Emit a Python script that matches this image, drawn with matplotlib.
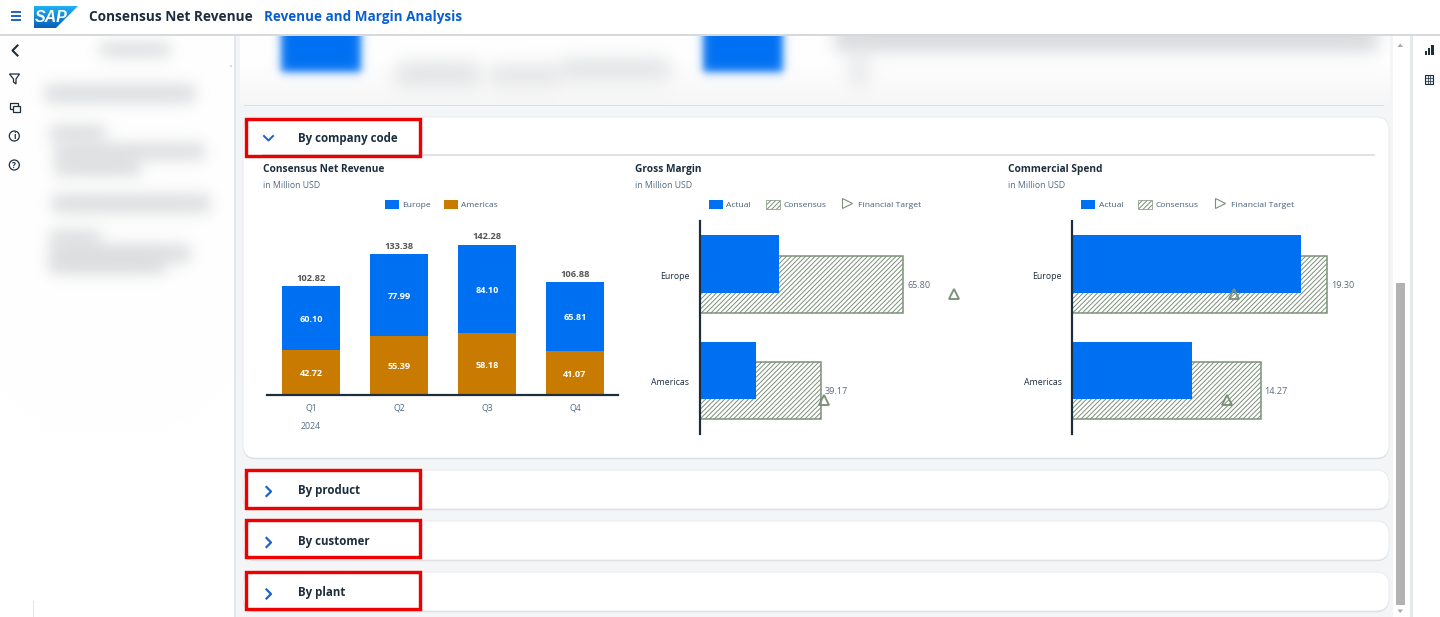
import numpy as np
import matplotlib
matplotlib.use("Agg")
import matplotlib.pyplot as plt
from matplotlib.patches import FancyBboxPatch, Rectangle, Polygon, Circle, Patch
from matplotlib.lines import Line2D
from matplotlib.transforms import ScaledTranslation

# ---------- data ----------
quarters = ["Q1", "Q2", "Q3", "Q4"]
year_label = "2024"
rev_europe = [60.10, 77.99, 84.10, 65.81]
rev_americas = [42.72, 55.39, 58.18, 41.07]
rev_totals = [102.82, 133.38, 142.28, 106.88]

regions = ["Europe", "Americas"]
gm_actual = [25.6, 18.1]
gm_consensus = [65.80, 39.17]
gm_target = [82.2, 40.2]
cs_actual = [17.3, 9.05]
cs_consensus = [19.30, 14.27]
cs_target = [12.27, 11.7]

section_names = ["By company code", "By product", "By customer", "By plant"]

# ---------- style ----------
W, H = 1440, 617
FONT = "Open Sans"
plt.rcParams["font.family"] = [FONT, "DejaVu Sans"]
plt.rcParams["hatch.linewidth"] = 0.7
BLUE = "#0070f2"
GOLD = "#c87b00"
DARK = "#1d2d3e"
GREY = "#556b82"
GREEN = "#7b9078"
LINK = "#1b63c9"
RED = "#ee0000"
HATCH = "/" * 7
px = 0.72  # points per pixel at dpi 100

fig = plt.figure(figsize=(W / 100, H / 100), dpi=100, facecolor="white")
ui = fig.add_axes([0, 0, 1, 1], zorder=0)
ui.set_axis_off()


def axes_px(left, top, right, bottom):
    ax = fig.add_axes([left / W, 1 - bottom / H, (right - left) / W, (bottom - top) / H], zorder=2)
    ax.patch.set_alpha(0)
    for s in ax.spines.values():
        s.set_visible(False)
    return ax


# ---------- blurred background ----------
yy, xx = np.mgrid[0:H, 0:W] + 0.5
img = np.ones((H, W, 3))
img[:, 234:1393] = np.array([0xf3, 0xf5, 0xf7]) / 255
img[:, 1393:1410] = 1.0
img[:, 1410:1413] = np.array([0xe6, 0xe9, 0xec]) / 255
img[:, 234:236] = np.array([0xe4, 0xe6, 0xe9]) / 255


def soft(x0, x1, y0, y1, s):
    return (0.5 * (np.tanh((xx - x0) / s) - np.tanh((xx - x1) / s))
            * 0.5 * (np.tanh((yy - y0) / s) - np.tanh((yy - y1) / s)))


def blur(x0, x1, y0, y1, color, s=5, strength=1.0):
    global img
    a = (soft(x0, x1, y0, y1, s) * strength)[..., None]
    img = img * (1 - a) + np.array(matplotlib.colors.to_rgb(color)) * a


for b in [(100, 170, 42, 57), (45, 195, 84, 103), (50, 105, 125, 142), (55, 205, 143, 160),
          (55, 140, 158, 176), (52, 210, 194, 213), (50, 100, 230, 246), (50, 190, 244, 263),
          (50, 165, 258, 274)]:
    blur(*b, "#cfd1d3", s=9, strength=0.75)
img[:34, :] = 1.0
img[34:36, :] = np.array([0xd6, 0xd8, 0xda]) / 255

ui.imshow(img, extent=(0, W, H, 0), interpolation="nearest", aspect="auto", zorder=0)


def card(x0, y0, x1, y1, r=13):
    ui.add_patch(FancyBboxPatch((x0, y0 + 1.2), x1 - x0, y1 - y0, boxstyle=f"round,pad=0,rounding_size={r}",
                                fc="#d6dade", ec="none", zorder=1))
    ui.add_patch(FancyBboxPatch((x0, y0), x1 - x0, y1 - y0, boxstyle=f"round,pad=0,rounding_size={r}",
                                fc="white", ec="#e8ebee", lw=0.7, zorder=1.1))


# top blurred card
ui.add_patch(Rectangle((244, 104.6), 1140, 1.2, fc="#dcdfe2", ec="none", zorder=1))
top = np.ones((69, 1150, 3))
tyy, txx = np.mgrid[36:105, 240:1390] + 0.5


def tsoft(x0, x1, y0, y1, s):
    return (0.5 * (np.tanh((txx - x0) / s) - np.tanh((txx - x1) / s))
            * 0.5 * (np.tanh((tyy - y0) / s) - np.tanh((tyy - y1) / s)))[..., None]


top = top * (1 - np.clip((tyy[..., None] - 60) / 45, 0, 1) * 0.035)
for (x0, x1, y0, y1, c, s, st) in [
    (396, 480, 62, 86, "#dcdee0", 11, .85), (490, 560, 64, 86, "#e0e1e3", 11, .85), (560, 670, 58, 80, "#dcdee0", 11, .85),
    (835, 1378, 20, 52, "#d6d8db", 10, .95), (848, 870, 50, 86, "#e4e5e7", 9, .7),
    (281, 361, 15, 72, BLUE, 5, 1), (703, 783, 15, 72, BLUE, 5, 1),
]:
    a = tsoft(x0, x1, y0, y1, s) * st
    top = top * (1 - a) + np.array(matplotlib.colors.to_rgb(c)) * a
ui.imshow(top, extent=(240, 1390, 105, 36), interpolation="nearest", aspect="auto", zorder=1.05)

# section cards
card(243, 117, 1389, 458)
card(243, 470, 1389, 509)
card(243, 521, 1389, 560)
card(243, 572, 1389, 611)

# divider
ui.plot([262, 1375], [155, 155], color="#d9dcdf", lw=1.2, zorder=1.2, solid_capstyle="butt")

# red boxes and section labels
boxes = [(246, 119, 419.5, 156), (246, 470, 419.5, 507.5), (246, 520, 419.5, 557), (246, 572, 419.5, 608.5)]
label_y = [138.8, 490.3, 541.6, 592.8]
for (x0, y0, x1, y1), name, ly in zip(boxes, section_names, label_y):
    ui.add_patch(Rectangle((x0, y0), x1 - x0, y1 - y0, fc="none", ec=RED, lw=3.4 * px, zorder=3))
    ui.text(298, ly, name, fontsize=8.3, fontweight="bold", color=DARK, va="center", ha="left", zorder=3)

# chevrons
ui.plot([264, 268.5, 273], [136, 140.5, 136], color=LINK, lw=1.8 * px * 1.1, zorder=3)
for cy in [491.5, 542.5, 594]:
    ui.plot([266.5, 271, 266.5], [cy - 4.5, cy, cy + 4.5], color=LINK, lw=2 * px * 1.1, zorder=3)

# header
for y in [12, 15.7, 19.5]:
    ui.plot([11, 21], [y, y], color="#1b5fc4", lw=1.9 * px, zorder=3, solid_capstyle="butt")
logo = Polygon([(34, 6), (78, 6), (56, 28), (34, 28)], closed=True, fc="none", ec="none", zorder=3)
ui.add_patch(logo)
grad = np.linspace(0, 1, 22)[:, None, None] * (np.array([0x0a, 0x5f, 0xb8]) - np.array([0x1e, 0xb0, 0xf0])) / 255 + np.array([0x1e, 0xb0, 0xf0]) / 255
gim = ui.imshow(np.repeat(grad, 2, axis=1), extent=(34, 78, 28, 6), aspect="auto", zorder=3)
gim.set_clip_path(logo)
ui.text(34.5, 17, "SAP", fontsize=11.5, fontweight="bold", style="italic", color="white", va="center", ha="left",
        family="Liberation Sans", zorder=4)
ui.text(89, 17, "Consensus Net Revenue", fontsize=9.8, fontweight="bold", color=DARK, va="center", zorder=3)
ui.text(264, 17, "Revenue and Margin Analysis", fontsize=9.75, fontweight="bold", color="#0a5fd0", va="center", zorder=3)

# left icons
ui.plot([17.5, 12.5, 17.5], [45.5, 50.5, 55.5], color=DARK, lw=1.5, zorder=3)
ui.add_patch(Polygon([(9.5, 74), (19.5, 74), (16, 79), (16, 84), (13.5, 82), (13.5, 79)], closed=True,
                     fc="none", ec=DARK, lw=0.9, zorder=3))
ui.add_patch(Rectangle((9.5, 102.5), 8, 6, fc="none", ec=DARK, lw=0.9, zorder=3))
ui.add_patch(Rectangle((12.5, 105.5), 7.5, 6, fc="white", ec=DARK, lw=0.9, zorder=3))
for cy, s in [(136, "i"), (165, "?")]:
    ui.add_patch(Circle((14.3, cy), 5, fc="none", ec=DARK, lw=0.9, zorder=3))
    ui.text(14.3, cy + 0.5, s, fontsize=5.8, fontweight="bold", color=DARK, ha="center", va="center", zorder=3)

# right icons
for (x, y, w, h) in [(1425, 50.5, 2, 4), (1428, 47.5, 2, 7), (1431, 45, 2.5, 9.5)]:
    ui.add_patch(Rectangle((x, y), w, h, fc=DARK, ec="none", zorder=3))
ui.add_patch(Rectangle((1425, 74.5), 8, 9, fc="#e8ecf2", ec=DARK, lw=0.8, zorder=3))
for x in [1427.7, 1430.3]:
    ui.plot([x, x], [74.5, 83.5], color=DARK, lw=0.5, zorder=3)
for y in [77.5, 80.5]:
    ui.plot([1425, 1433], [y, y], color=DARK, lw=0.5, zorder=3)

# scrollbar
ui.add_patch(Rectangle((1395.7, 282.5), 9.5, 322.5, fc="#b2b2b2", ec="none", zorder=2))
ui.add_patch(Polygon([(1397.5, 609.5), (1403, 609.5), (1400.2, 613)], fc="#aaaaaa", ec="none", zorder=2))
ui.add_patch(Polygon([(1397.5, 47), (1403, 47), (1400.2, 43.5)], fc="#aaaaaa", ec="none", zorder=2))
ui.plot([33, 33], [601, 617], color="#e6e6e6", lw=0.8, zorder=2)
ui.add_patch(Rectangle((230, 65), 1.5, 1.5, fc="#d6dbe0", ec="none", zorder=2))

# chart headers
for x, title in [(263, "Consensus Net Revenue"), (635, "Gross Margin"), (1008, "Commercial Spend")]:
    ui.text(x, 169.3, title, fontsize=7.25, fontweight="bold", color=DARK, va="center", zorder=3)
    ui.text(x, 186, "in Million USD", fontsize=6.3, color=GREY, va="center", zorder=3)

ui.set_xlim(0, W)
ui.set_ylim(H, 0)


def add_legend(ax, handles, cx, spacing):
    leg = ax.legend(handles=handles, loc="center", bbox_to_anchor=(cx, 204.5), bbox_transform=ui.transData,
                    ncols=len(handles), frameon=False, fontsize=6.1, handlelength=1.65, handleheight=1.3,
                    handletextpad=0.42, columnspacing=spacing, borderpad=0, borderaxespad=0,
                    labelcolor="#475e75")
    return leg


# ---------- stacked column chart ----------
ax1 = axes_px(267, 230, 618, 394.5)
x = np.arange(len(quarters))
ax1.bar(x, rev_americas, width=0.66, color=GOLD, zorder=2)
ax1.bar(x, rev_europe, width=0.66, bottom=rev_americas, color=BLUE, zorder=2)
ax1.set_xlim(-0.5, 3.49)
ax1.set_ylim(0, 164.5 / 1.053)
for i in x:
    ax1.annotate(f"{rev_americas[i]:.2f}", (i, rev_americas[i] / 2), xytext=(0, -0.9), textcoords="offset points",
                 color="white", fontsize=6.6, fontweight="bold", ha="center", va="center", zorder=3)
    ax1.annotate(f"{rev_europe[i]:.2f}", (i, rev_americas[i] + rev_europe[i] / 2), xytext=(0, -0.9),
                 textcoords="offset points", color="white", fontsize=6.6, fontweight="bold", ha="center", va="center",
                 zorder=3)
    ax1.annotate(f"{rev_totals[i]:.2f}", (i, rev_americas[i] + rev_europe[i]), xytext=(0, 5.6),
                 textcoords="offset points", ha="center", va="center", fontsize=6.7, fontweight="bold", color="#555555")
ax1.spines["bottom"].set_visible(True)
ax1.spines["bottom"].set_linewidth(2.2 * px)
ax1.spines["bottom"].set_color(DARK)
ax1.set_xticks(x, quarters)
ax1.set_yticks([])
ax1.tick_params(axis="x", length=0, pad=6.3, labelsize=6.3, labelcolor=GREY)
ax1.annotate(year_label, (0, 0), xytext=(0, -22.7), textcoords="offset points", ha="center", va="center",
             fontsize=6.3, color=GREY, annotation_clip=False)
add_legend(ax1, [Patch(fc=BLUE, label="Europe"), Patch(fc=GOLD, label="Americas")], 441.5, 1.5)


# ---------- bullet charts ----------
def bullet(left, scale, actual, consensus, target, legend_cx):
    right = left + 310
    ax = axes_px(left, 221.4, right, 433.7)
    y = np.arange(len(regions))
    ax.barh(y + 0.095, consensus, height=0.535, facecolor="white", edgecolor=GREEN, hatch=HATCH, lw=1.5 * px, zorder=1)
    ax.barh(y - 0.097, actual, height=0.543, color=BLUE, zorder=2)
    ax.plot(target, y + 0.18, ls="none", marker="^", ms=7.6, mfc="none", mec=GREEN, mew=1.35, zorder=3, clip_on=False)
    ax.set_xlim(0, (right - left) / scale)
    ax.set_ylim(1.5, -0.5)
    ax.spines["left"].set_visible(True)
    ax.spines["left"].set_linewidth(2.2 * px)
    ax.spines["left"].set_color(DARK)
    ax.set_xticks([])
    ax.set_yticks(y, regions)
    ax.tick_params(axis="y", length=0, pad=7.6, labelsize=6.3, labelcolor=DARK)
    shift = ScaledTranslation(0, -1 / 100, fig.dpi_scale_trans)
    for lab in ax.get_yticklabels():
        lab.set_transform(lab.get_transform() + shift)
    for yi, c in zip(y, consensus):
        ax.annotate(f"{c:.2f}", (c, yi + 0.095), xytext=(2.7, -0.7), textcoords="offset points", ha="left", va="center",
                    fontsize=6.5, color="#5b6b7a")
    add_legend(ax, [Patch(fc=BLUE, label="Actual"),
                    Patch(fc="white", ec=GREEN, hatch=HATCH, lw=0.5, label="Consensus"),
                    Line2D([], [], ls="none", marker=">", ms=7.4, mfc="none", mec=GREEN, mew=0.8, label="Financial Target")],
               legend_cx, 1.7)


bullet(699.7, 3.095, gm_actual, gm_consensus, gm_target, 815)
bullet(1072.3, 13.2, cs_actual, cs_consensus, cs_target, 1187.5)

fig.savefig("out.png", dpi=100)
